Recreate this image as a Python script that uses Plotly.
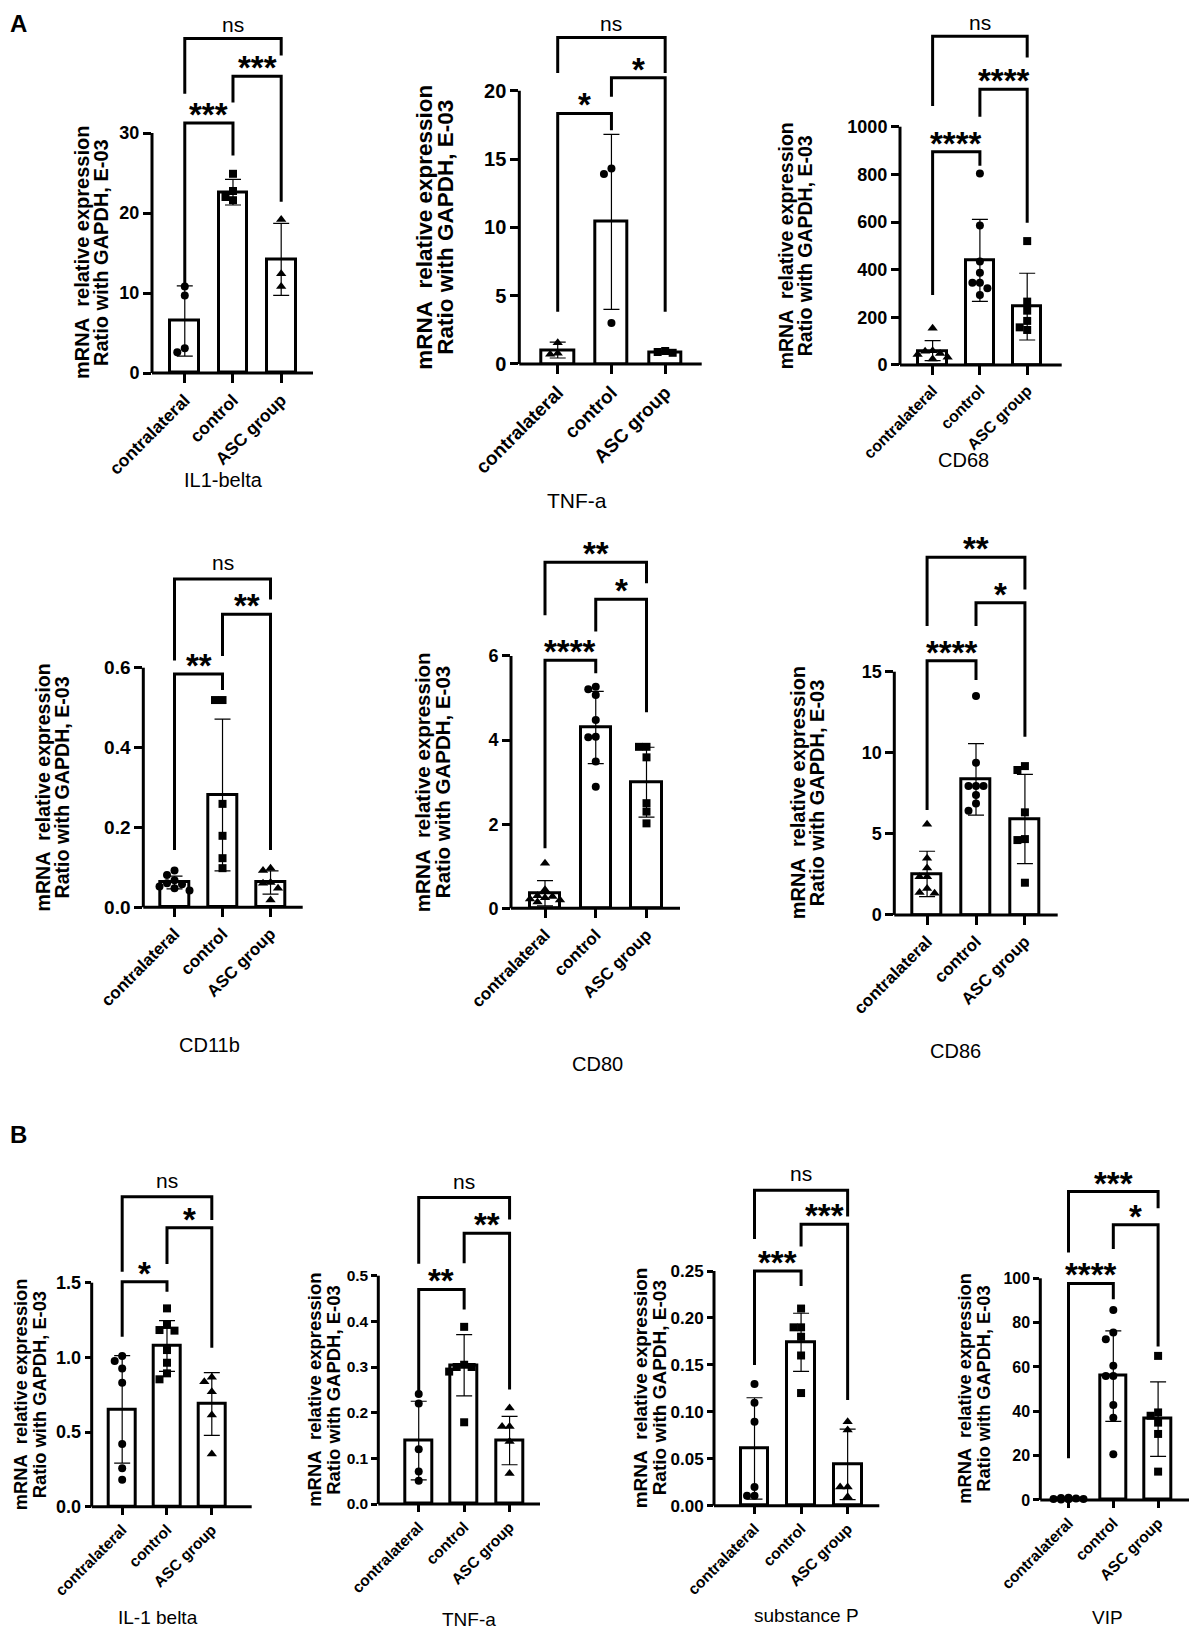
import plotly.graph_objects as go

W, H = 1197, 1637
OX = OY = 8                      # the html body keeps its default 8px margin
FW, FH = W - 2 * OX, H - 2 * OY
FONT = "Liberation Sans, Arial, Helvetica, sans-serif"

groups = ["contralateral", "control", "ASC group"]
ytitle = ["mRNA\u00a0 relative expression", "Ratio with GAPDH, E-03"]

# ---------------- panel A (bar = mean, error = SD, points = animals)
il1_mean = [6.5, 22.6, 14.2]
il1_sd = [4.4, 1.6, 4.5]
il1_pts = [[10.8, 9.7, 3.1, 2.6], [24.9, 22.75, 22.0, 21.6], [19.2, 12.4, 10.8]]
il1_sig = [(0, 1, 31.25, 10.96, 27.2, "***"), (1, 2, 37.1, 33.8, 21.4, "***"), (0, 2, 41.8, 34.9, 39.7, "ns")]
il1_ticks = [0, 10, 20, 30]

tnf_mean = [1.02, 10.4, 0.88]
tnf_sd = [0.58, 6.4, 0.07]
tnf_pts = [[1.55, 0.78, 0.72], [14.3, 13.9, 3.0], [0.95, 0.88, 0.82]]
tnf_sig = [(0, 1, 18.34, 3.83, 17.1, "*"), (1, 2, 20.95, 19.56, 3.83, "*"), (0, 2, 23.9, 21.3, 21.3, "ns")]
tnf_ticks = [0, 5, 10, 15, 20]

cd68_mean = [60, 439, 245]
cd68_sd = [42, 172, 140]
cd68_pts = [[154, 60, 58, 48, 44, 33, 25], [804, 585, 434, 387, 345, 345, 322, 294], [520, 266, 228, 185, 158, 147]]
cd68_sig = [(0, 1, 895, 294, 836, "****"), (1, 2, 1157, 1042, 597, "****"), (0, 2, 1380, 1087, 1290, "ns")]
cd68_ticks = [0, 200, 400, 600, 800, 1000]

cd11b_mean = [0.062, 0.281, 0.062]
cd11b_sd = [0.016, 0.19, 0.029]
cd11b_pts = [[0.092, 0.081, 0.068, 0.06, 0.058, 0.052, 0.048, 0.042], [0.519, 0.519, 0.259, 0.179, 0.123, 0.098],
             [0.098, 0.092, 0.062, 0.06, 0.048, 0.018]]
cd11b_sig = [(0, 1, 0.584, 0.1436, 0.544, "**"), (1, 2, 0.734, 0.629, 0.1436, "**"), (0, 2, 0.822, 0.618, 0.771, "ns")]
cd11b_ticks = [0, 0.2, 0.4, 0.6]

cd80_mean = [0.36, 4.3, 3.0]
cd80_sd = [0.3, 0.86, 0.83]
cd80_pts = [[1.07, 0.44, 0.3, 0.28, 0.25, 0.22, 0.2, 0.15], [5.27, 5.21, 5.07, 4.48, 4.08, 4.07, 3.49, 2.89],
            [3.84, 3.84, 3.59, 2.5, 2.3, 2.02]]
cd80_sig = [(0, 1, 5.90, 1.43, 5.59, "****"), (1, 2, 7.35, 6.58, 4.66, "*"), (0, 2, 8.23, 6.97, 7.73, "**")]
cd80_ticks = [0, 2, 4, 6]

cd86_mean = [2.53, 8.36, 5.92]
cd86_sd = [1.4, 2.2, 2.75]
cd86_pts = [[5.6, 3.5, 2.9, 2.36, 2.36, 1.64, 1.38, 1.34], [13.5, 9.39, 7.95, 7.95, 7.95, 7.4, 6.88, 6.43],
            [9.18, 8.94, 6.33, 4.68, 4.62, 1.99]]
cd86_sig = [(0, 1, 15.68, 6.47, 14.49, "****"), (1, 2, 19.25, 17.81, 10.99, "*"), (0, 2, 22.05, 17.81, 20.07, "**")]
cd86_ticks = [0, 5, 10, 15]

# ---------------- panel B
bil1_mean = [0.652, 1.076, 0.688]
bil1_sd = [0.36, 0.17, 0.21]
bil1_pts = [[1.009, 0.975, 0.926, 0.83, 0.42, 0.257, 0.18], [1.328, 1.217, 1.183, 1.179, 1.049, 0.964, 0.893, 0.853],
            [0.866, 0.837, 0.77, 0.614, 0.353]]
bil1_sig = [(0, 1, 1.507, 1.138, 1.44, "*"), (1, 2, 1.868, 1.625, 1.065, "*"), (0, 2, 2.076, 1.574, 1.92, "ns")]
bil1_ticks = [0, 0.5, 1.0, 1.5]

btnf_mean = [0.139, 0.304, 0.139]
btnf_sd = [0.086, 0.067, 0.053]
btnf_pts = [[0.241, 0.22, 0.12, 0.071, 0.051], [0.388, 0.305, 0.30, 0.30, 0.29, 0.179], [0.21, 0.17, 0.17, 0.137, 0.067]]
btnf_sig = [(0, 1, 0.470, 0.239, 0.426, "**"), (1, 2, 0.593, 0.527, 0.251, "**"), (0, 2, 0.671, 0.526, 0.623, "ns")]
btnf_ticks = [0, 0.1, 0.2, 0.3, 0.4, 0.5]

subp_mean = [0.061, 0.174, 0.044]
subp_sd = [0.054, 0.031, 0.0375]
subp_pts = [[0.1296, 0.1097, 0.0895, 0.02, 0.0107, 0.0107], [0.21, 0.19, 0.19, 0.18, 0.16, 0.12],
            [0.0895, 0.0806, 0.02, 0.02, 0.0096]]
subp_sig = [(0, 1, 0.25, 0.15, 0.234, "***"), (1, 2, 0.2997, 0.276, 0.1126, "***"), (0, 2, 0.336, 0.284, 0.308, "ns")]
subp_ticks = [0, 0.05, 0.10, 0.15, 0.20, 0.25]

vip_mean = [0.55, 55.9, 36.5]
vip_sd = [0.3, 20.4, 16.8]
vip_pts = [[1.0, 0.9, 0.7, 0.5, 0.4, 0.3, 0.2], [85.7, 75.6, 72.5, 60.6, 55.9, 55.9, 42.9, 37.1, 20.6],
           [65, 39.5, 38, 34.9, 29.8, 12.8]]
vip_sig = [(0, 1, 97.7, 18.8, 90.5, "****"), (1, 2, 124.1, 113.2, 69.2, "*"), (0, 2, 139.1, 111.6, 131.6, "***")]
vip_ticks = [0, 20, 40, 60, 80, 100]

CST = ["circle", "square", "triangle-up"]   # contralateral / control / ASC
TCS = ["triangle-up", "circle", "square"]

# box = (y-axis x px, axis right end px, y px of 0, y px of top tick)
panels = [
    dict(name="IL1-belta", mean=il1_mean, sd=il1_sd, pts=il1_pts, sig=il1_sig, ticks=il1_ticks, fmt="{:.0f}", sym=CST,
         box=(152, 313, 373, 133), xr=(-0.68, 2.66), ytx=91.5, ygap=19, yfs=20, xt=(223, 480), xfs=20, tfs=18,
         cfs=17.5, tl=8, nss=1),
    dict(name="TNF-a", mean=tnf_mean, sd=tnf_sd, pts=tnf_pts, sig=tnf_sig, ticks=tnf_ticks, fmt="{:.0f}", sym=TCS,
         box=(519.3, 701.7, 364, 90.7), xr=(-0.715, 2.68), ytx=435, ygap=21, yfs=22.5, xt=(577, 500), xfs=21, tfs=20,
         cfs=19, tl=8, nss=0),
    dict(name="CD68", mean=cd68_mean, sd=cd68_sd, pts=cd68_pts, sig=cd68_sig, ticks=cd68_ticks, fmt="{:.0f}", sym=TCS,
         box=(900, 1061.7, 365, 126.7), xr=(-0.69, 2.73), ytx=795, ygap=19, yfs=19.5, xt=(963, 460), xfs=20, tfs=18,
         cfs=16, tl=8, nss=0),
    dict(name="CD11b", mean=cd11b_mean, sd=cd11b_sd, pts=cd11b_pts, sig=cd11b_sig, ticks=cd11b_ticks, fmt="{:.1f}",
         sym=CST, box=(143.3, 302.7, 907.3, 667.7), xr=(-0.65, 2.67), ytx=51.5, ygap=19, yfs=19.6, xt=(209, 1045),
         xfs=20, tfs=19, cfs=17, tl=8, nss=3),
    dict(name="CD80", mean=cd80_mean, sd=cd80_sd, pts=cd80_pts, sig=cd80_sig, ticks=cd80_ticks, fmt="{:.0f}", sym=TCS,
         box=(511, 680, 908.3, 656), xr=(-0.67, 2.66), ytx=432, ygap=20, yfs=20.5, xt=(597, 1064), xfs=20, tfs=18,
         cfs=17, tl=8, nss=3),
    dict(name="CD86", mean=cd86_mean, sd=cd86_sd, pts=cd86_pts, sig=cd86_sig, ticks=cd86_ticks, fmt="{:.0f}", sym=TCS,
         box=(894.3, 1057.7, 915, 671.7), xr=(-0.67, 2.67), ytx=807.5, ygap=19, yfs=20, xt=(955, 1051), xfs=20, tfs=18,
         cfs=17, tl=8, nss=3),
    dict(name="IL-1 belta", mean=bil1_mean, sd=bil1_sd, pts=bil1_pts, sig=bil1_sig, ticks=bil1_ticks, fmt="{:.1f}",
         sym=CST, box=(91.7, 251.7, 1506.7, 1282.7), xr=(-0.68, 2.89), ytx=30, ygap=19, yfs=18.3, xt=(158, 1617),
         xfs=19, tfs=18, cfs=15.5, tl=6, nss=3),
    dict(name="TNF-a", mean=btnf_mean, sd=btnf_sd, pts=btnf_pts, sig=btnf_sig, ticks=btnf_ticks, fmt="{:.1f}",
         sym=CST, box=(378.3, 540, 1504, 1275.7), xr=(-0.89, 2.67), ytx=324.5, ygap=19, yfs=18.5, xt=(469, 1619),
         xfs=19, tfs=15.5, cfs=15.5, tl=6, nss=3),
    dict(name="substance P", mean=subp_mean, sd=subp_sd, pts=subp_pts, sig=subp_sig, ticks=subp_ticks, fmt="{:.2f}",
         sym=CST, box=(714, 879.3, 1505.7, 1271), xr=(-0.87, 2.68), ytx=649.5, ygap=19, yfs=19, xt=(806, 1615),
         xfs=19, tfs=17, cfs=15.5, tl=6, nss=3),
    dict(name="VIP", mean=vip_mean, sd=vip_sd, pts=vip_pts, sig=vip_sig, ticks=vip_ticks, fmt="{:.0f}",
         sym=["circle", "circle", "square"], box=(1040.3, 1189, 1500, 1278.3), xr=(-0.63, 2.69), ytx=975, ygap=19,
         yfs=18.2, xt=(1107, 1617), xfs=19, tfs=16, cfs=15.5, tl=6, nss=3),
]


def fx(px):
    return min(max((px - OX) / FW, 0.0), 1.0)


def fy(py):
    return min(max(1 - (py - OY) / FH, 0.0), 1.0)


def swarm(vals, ypx, xpx, d=7.5):
    # GraphPad-like scatter: push a point sideways while it overlaps one already placed
    placed, offs = [], []
    for v in vals:
        y = v * ypx
        best, best_gap = 0, -1
        for k in [0, -1, 1, -2, 2]:
            x = k * d
            gap = min([(x - a) ** 2 + (y - b) ** 2 for a, b in placed] or [1e9])
            if gap >= d * d:
                best = x
                break
            if gap > best_gap:
                best, best_gap = x, gap
        placed.append((best, y))
        offs.append(best / xpx)
    return offs


fig = go.Figure()
shapes, notes = [], []
blk = "black"

for n, p in enumerate(panels, start=1):
    sfx = "" if n == 1 else str(n)
    xa, ya = "x" + sfx, "y" + sfx
    left, right, py0, ptop = p["box"]
    ticks = p["ticks"]
    ypx = (py0 - ptop) / ticks[-1]
    ytop = max(b[2] for b in p["sig"]) + 4 / ypx
    x0, x1 = p["xr"]
    xpx = (right - left) / (x1 - x0)

    fig.update_layout(**{
        "xaxis" + sfx: dict(domain=[fx(left), fx(right)], anchor=ya, range=[x0, x1], automargin=False,
                            tickvals=[0, 1, 2], ticktext=["<b>%s</b>" % g for g in groups], tickangle=-45,
                            ticks="outside", ticklen=p["tl"] + 1, tickwidth=2.5, tickcolor=blk,
                            showline=False, showgrid=False, zeroline=False, fixedrange=True,
                            tickfont=dict(family=FONT, size=p["cfs"], color=blk)),
        "yaxis" + sfx: dict(domain=[fy(py0), fy(py0 - ytop * ypx)], anchor=xa, range=[0, ytop],
                            automargin=False, tickvals=ticks,
                            ticktext=["<b>%s</b>" % p["fmt"].format(t) for t in ticks],
                            ticks="outside", ticklen=p["tl"], tickwidth=2.5, tickcolor=blk,
                            showline=False, showgrid=False, zeroline=False, fixedrange=True,
                            tickfont=dict(family=FONT, size=p["tfs"], color=blk)),
    })

    fig.add_trace(go.Bar(x=[0, 1, 2], y=p["mean"], width=0.6, xaxis=xa, yaxis=ya, showlegend=False,
                         marker=dict(color="white", line=dict(color=blk, width=3)),
                         error_y=dict(type="data", array=p["sd"], visible=True, color=blk, thickness=1.2, width=8),
                         hoverinfo="skip"))
    for g in range(3):
        offs = swarm(p["pts"][g], ypx, xpx)
        fig.add_trace(go.Scatter(x=[g + o for o in offs], y=p["pts"][g], mode="markers", xaxis=xa, yaxis=ya,
                                 showlegend=False, cliponaxis=False,
                                 marker=dict(symbol=p["sym"][g], size=9 if "tri" in p["sym"][g] else 8,
                                             color=blk, line=dict(width=0))))

    # axis lines stop at the top tick, like the original
    shapes.append(dict(type="line", xref=xa + " domain", yref=ya + " domain", x0=0, x1=0, y0=0,
                       y1=ticks[-1] / ytop, line=dict(color=blk, width=3)))
    shapes.append(dict(type="line", xref=xa + " domain", yref=ya + " domain", x0=0, x1=1, y0=0, y1=0,
                       line=dict(color=blk, width=3)))

    for i, j, top, lo_i, lo_j, lab in p["sig"]:
        shapes.append(dict(type="path", xref=xa, yref=ya,
                           path=f"M{i},{lo_i} L{i},{top} L{j},{top} L{j},{lo_j}",
                           line=dict(color=blk, width=3)))
        star = lab != "ns"
        notes.append(dict(xref=xa, yref=ya, x=(i + j) / 2, y=top, text="<b>%s</b>" % lab if star else lab,
                          showarrow=False, yanchor="bottom", yshift=-12 if star else p["nss"],
                          font=dict(family=FONT, size=33 if star else 21, color=blk)))

    yc = fy((py0 + ptop) / 2)
    for k, line in enumerate(ytitle):
        notes.append(dict(xref="paper", yref="paper", x=fx(p["ytx"] + (k - 0.5) * p["ygap"]), y=yc,
                          text="<b>%s</b>" % line, textangle=-90, showarrow=False, xanchor="center",
                          yanchor="middle", font=dict(family=FONT, size=p["yfs"], color=blk)))
    notes.append(dict(xref="paper", yref="paper", x=fx(p["xt"][0]), y=fy(p["xt"][1]), text=p["name"],
                      showarrow=False, xanchor="center", yanchor="middle",
                      font=dict(family=FONT, size=p["xfs"], color=blk)))

for letter, ly in {"A": 23.5, "B": 1134}.items():
    notes.append(dict(xref="paper", yref="paper", x=0, y=fy(ly), text="<b>%s</b>" % letter,
                      showarrow=False, xanchor="left", yanchor="middle", font=dict(family=FONT, size=24, color=blk)))

fig.update_layout(width=FW, height=FH, margin=dict(l=0, r=0, t=0, b=0), plot_bgcolor="white",
                  paper_bgcolor="white", shapes=shapes, annotations=notes, bargap=0)

fig.write_html("out.html")
